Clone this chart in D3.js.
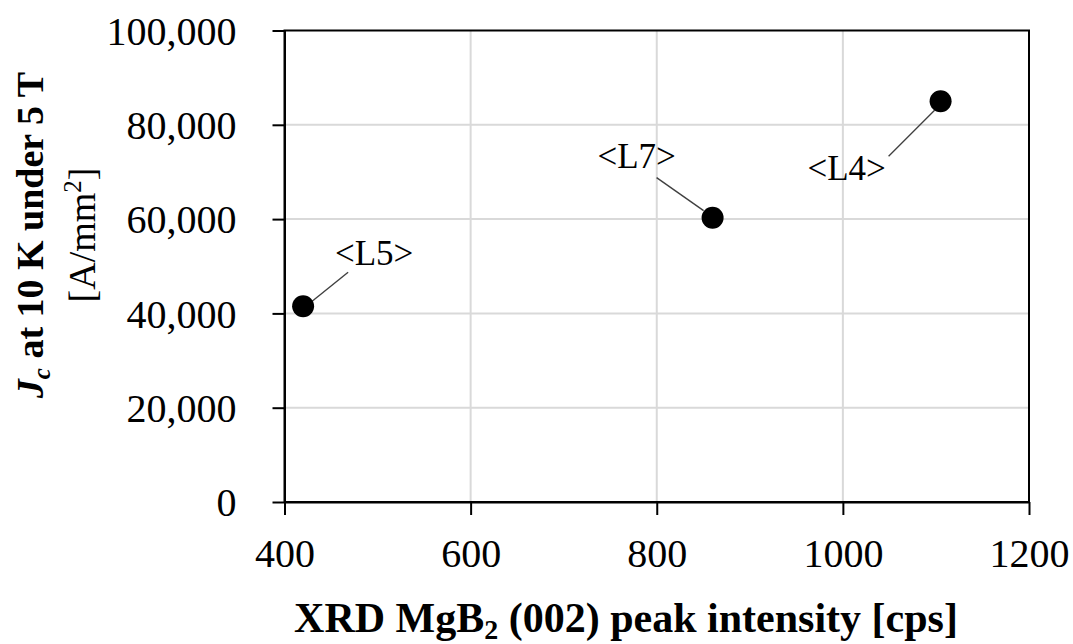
<!DOCTYPE html>
<html><head><meta charset="utf-8">
<script src="https://cdn.jsdelivr.net/npm/d3@7"></script>
<style>
html,body{margin:0;padding:0;background:#fff;}
text{font-family:"Liberation Serif","Times New Roman",serif;fill:#000;}
</style></head>
<body>
<svg id="chart" width="1073" height="644"></svg>
<script>
// ---- data ----
const sampleLabels = ["<L5>", "<L7>", "<L4>"];
const peakIntensity = [420, 860, 1105];        // cps
const jcValues = [41500, 60300, 85000];        // A/mm^2
const xTickValues = [400, 600, 800, 1000, 1200];
const yTickValues = [0, 20000, 40000, 60000, 80000, 100000];

// ---- layout (label offsets relative to point, in px) ----
const labelLayout = [
  {tx: 71, ty: -41, lx1: 9, ly1: -5, lx2: 45, ly2: -34},
  {tx: -76, ty: -50, lx1: -56, ly1: -40, lx2: -9, ly2: -7},
  {tx: -94, ty: 79, lx1: -52, ly1: 55, lx2: -6, ly2: 9}
];

const svg = d3.select("#chart");
const pLeft = 284.5, pRight = 1029, pTop = 30.5, pBottom = 502;
const x = d3.scaleLinear().domain([400, 1200]).range([pLeft, pRight]);
const y = d3.scaleLinear().domain([0, 100000]).range([pBottom, pTop]);

// gridlines
svg.append("g").selectAll("line").data(yTickValues.slice(1, -1)).join("line")
  .attr("x1", pLeft).attr("x2", pRight).attr("y1", d => y(d)).attr("y2", d => y(d))
  .attr("stroke", "#d9d9d9").attr("stroke-width", 2);
svg.append("g").selectAll("line").data(xTickValues.slice(1, -1)).join("line")
  .attr("y1", pTop).attr("y2", pBottom).attr("x1", d => x(d)).attr("x2", d => x(d))
  .attr("stroke", "#d9d9d9").attr("stroke-width", 2);

// frame
svg.append("rect").attr("x", pLeft).attr("y", pTop).attr("width", pRight - pLeft).attr("height", pBottom - pTop)
  .attr("fill", "none").attr("stroke", "#000").attr("stroke-width", 2);

// axes
const fmt = d3.format(",");
const xAxis = svg.append("g").attr("transform", `translate(0,${pBottom})`)
  .call(d3.axisBottom(x).tickValues(xTickValues).tickSize(13).tickSizeOuter(0).tickFormat(d3.format("d")));
xAxis.select(".domain").attr("stroke-width", 2);
xAxis.selectAll(".tick line").attr("stroke-width", 2);
xAxis.selectAll(".tick text").attr("y", 65).attr("dy", 0)
  .style("font-size", "40px").style("font-family", "'Liberation Serif', serif");

const yAxis = svg.append("g").attr("transform", `translate(${pLeft},0)`)
  .call(d3.axisLeft(y).tickValues(yTickValues).tickSize(12).tickSizeOuter(0).tickFormat(fmt));
yAxis.select(".domain").attr("stroke-width", 2);
yAxis.selectAll(".tick line").attr("stroke-width", 2);
yAxis.selectAll(".tick text").attr("x", -48).attr("dy", "0.34em")
  .style("font-size", "40px").style("font-family", "'Liberation Serif', serif");

// leader lines + labels
const pts = sampleLabels.map((lab, i) => ({lab, xv: peakIntensity[i], yv: jcValues[i], L: labelLayout[i]}));
svg.append("g").selectAll("line").data(pts).join("line")
  .attr("x1", d => x(d.xv) + d.L.lx1).attr("y1", d => y(d.yv) + d.L.ly1)
  .attr("x2", d => x(d.xv) + d.L.lx2).attr("y2", d => y(d.yv) + d.L.ly2)
  .attr("stroke", "#404040").attr("stroke-width", 1.4);
svg.append("g").selectAll("text").data(pts).join("text")
  .attr("x", d => x(d.xv) + d.L.tx).attr("y", d => y(d.yv) + d.L.ty)
  .attr("text-anchor", "middle").style("font-size", "35px")
  .text(d => d.lab);

// points
svg.append("g").selectAll("circle").data(pts).join("circle")
  .attr("cx", d => x(d.xv)).attr("cy", d => y(d.yv)).attr("r", 11).attr("fill", "#000");

// x title
const xt = svg.append("text").attr("x", 626).attr("y", 632).attr("text-anchor", "middle")
  .style("font-size", "42px").style("font-weight", "bold");
xt.append("tspan").text("XRD MgB");
xt.append("tspan").attr("dy", 7).style("font-size", "28px").text("2");
xt.append("tspan").attr("dy", -7).text(" (002) peak intensity [cps]");

// y title
const yt = svg.append("g").attr("transform", "translate(43,235) rotate(-90)");
const l1 = yt.append("text").attr("text-anchor", "middle").style("font-size", "38px").style("font-weight", "bold");
l1.append("tspan").style("font-style", "italic").text("J");
l1.append("tspan").attr("dy", 7).style("font-style", "italic").style("font-size", "25px").text("c");
l1.append("tspan").attr("dy", -7).text(" at 10 K under 5 T");
const l2 = yt.append("text").attr("y", 52).attr("text-anchor", "middle").style("font-size", "38px");
l2.append("tspan").text("[A/mm");
l2.append("tspan").attr("dy", -14).style("font-size", "25px").text("2");
l2.append("tspan").attr("dy", 14).text("]");
</script>
</body></html>
